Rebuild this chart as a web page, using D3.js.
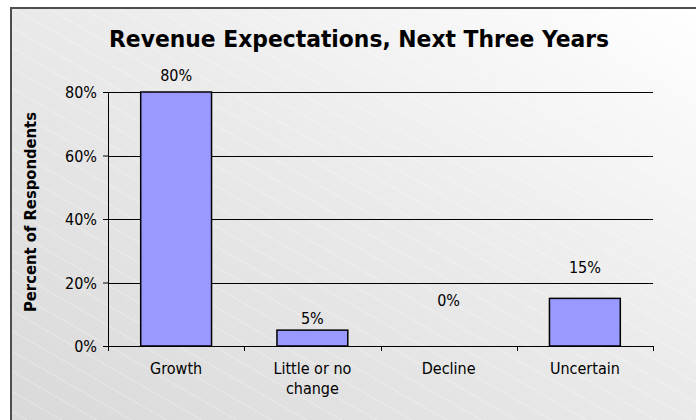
<!DOCTYPE html>
<html>
<head>
<meta charset="utf-8">
<script src="https://cdn.jsdelivr.net/npm/d3@7"></script>
<style>
  html, body { margin: 0; padding: 0; background: #fff; }
  svg { display: block; }
  text { font-family: "DejaVu Sans Condensed", "DejaVu Sans", sans-serif; font-stretch: condensed; }
</style>
</head>
<body>
<svg id="chart" width="696" height="420"></svg>
<script>
// Survey answers and their shares (percent of respondents)
const categories = ["Growth", "Little or no change", "Decline", "Uncertain"];
const categoryLines = [["Growth"], ["Little or no", "change"], ["Decline"], ["Uncertain"]];
const shares = [80, 5, 0, 15];
// where each value label sits, on the percent scale
const labelAnchors = [83.5, 6.9, 12.6, 23];
const yTicks = [0, 20, 40, 60, 80];

const svg = d3.select("#chart");
const W = 696, H = 420;
const margin = { left: 108, right: 43, top: 92, bottom: 74 };

// Panel background: grey-to-white diagonal gradient with faint diagonal hatching
const defs = svg.append("defs");
const grad = defs.append("linearGradient")
  .attr("id", "bg").attr("x1", "0%").attr("y1", "100%").attr("x2", "100%").attr("y2", "0%");
grad.append("stop").attr("offset", "0%").attr("stop-color", "#d9d9d9");
grad.append("stop").attr("offset", "55%").attr("stop-color", "#ebebeb");
grad.append("stop").attr("offset", "100%").attr("stop-color", "#ffffff");

const hatch = defs.append("pattern")
  .attr("id", "hatch").attr("patternUnits", "userSpaceOnUse")
  .attr("width", 40).attr("height", 17.5)
  .attr("patternTransform", "rotate(30)");
hatch.append("line")
  .attr("x1", 0).attr("y1", 0.5).attr("x2", 40).attr("y2", 0.5)
  .attr("stroke", "#ffffff").attr("stroke-opacity", 0.3).attr("stroke-width", 1);

svg.append("rect").attr("x", 10).attr("y", 7).attr("width", W - 10).attr("height", H - 7)
  .attr("fill", "url(#bg)");
svg.append("rect").attr("x", 10).attr("y", 7).attr("width", W - 10).attr("height", H - 7)
  .attr("fill", "url(#hatch)");
// frame edges (top and left)
svg.append("path")
  .attr("d", `M11,${H} L11,8 L${W},8`)
  .attr("fill", "none").attr("stroke", "#4d4d4d").attr("stroke-width", 2);

// Scales
const x = d3.scaleBand()
  .domain(categories)
  .range([margin.left, W - margin.right])
  .paddingInner(0.48).paddingOuter(0.24);
const y = d3.scaleLinear()
  .domain([0, 80])
  .range([H - margin.bottom, margin.top]);

// Horizontal gridlines
svg.append("g")
  .selectAll("line")
  .data(yTicks.filter(d => d > 0))
  .join("line")
  .attr("x1", margin.left).attr("x2", W - margin.right)
  .attr("y1", d => Math.round(y(d)) + 0.5).attr("y2", d => Math.round(y(d)) + 0.5)
  .attr("stroke", "#000").attr("stroke-width", 1);

// Bars
svg.append("g")
  .selectAll("rect")
  .data(shares)
  .join("rect")
  .attr("x", (d, i) => x(categories[i]))
  .attr("width", x.bandwidth())
  .attr("y", d => y(d))
  .attr("height", d => y(0) - y(d))
  .attr("fill", "#9999ff")
  .attr("stroke", "#000").attr("stroke-width", 1.5)
  .attr("display", d => d > 0 ? null : "none");

// Value labels
svg.append("g")
  .selectAll("text")
  .data(shares)
  .join("text")
  .attr("x", (d, i) => x(categories[i]) + x.bandwidth() / 2)
  .attr("y", (d, i) => y(labelAnchors[i]))
  .attr("text-anchor", "middle")
  .attr("font-size", 16)
  .attr("fill", "#000")
  .text(d => d + "%");

// Y axis
const yAxis = d3.axisLeft(y)
  .tickValues(yTicks)
  .tickFormat(d => d + "%")
  .tickSize(5)
  .tickPadding(6);
const gy = svg.append("g").attr("transform", `translate(${margin.left},0)`).call(yAxis);
gy.select(".domain").attr("stroke", "#000").attr("d", `M0.5,${y(80)}V${y(0)}`);
gy.selectAll(".tick line").attr("stroke", "#000");
gy.selectAll(".tick text")
  .attr("font-size", 16).attr("fill", "#000").attr("dy", "0.36em")
  .style("font-family", "'DejaVu Sans Condensed', 'DejaVu Sans', sans-serif")
  .style("font-stretch", "condensed");

// X axis: baseline with ticks at category boundaries
const step = x.step();
const boundaries = d3.range(categories.length + 1).map(i => margin.left + i * step);
svg.append("line")
  .attr("x1", margin.left).attr("x2", W - margin.right)
  .attr("y1", y(0) + 0.5).attr("y2", y(0) + 0.5)
  .attr("stroke", "#000");
svg.append("g")
  .selectAll("line")
  .data(boundaries)
  .join("line")
  .attr("x1", d => Math.round(d) + 0.5).attr("x2", d => Math.round(d) + 0.5)
  .attr("y1", y(0)).attr("y2", y(0) + 5)
  .attr("stroke", "#000");

// Category labels (wrapped)
const cat = svg.append("g")
  .selectAll("text")
  .data(categoryLines)
  .join("text")
  .attr("text-anchor", "middle")
  .attr("font-size", 16)
  .attr("fill", "#000");
cat.each(function (lines, i) {
  const cx = x(categories[i]) + x.bandwidth() / 2;
  d3.select(this).selectAll("tspan")
    .data(lines)
    .join("tspan")
    .attr("x", cx)
    .attr("y", (d, j) => y(0) + 28 + j * 20)
    .text(d => d);
});

// Title
svg.append("text")
  .attr("x", 359).attr("y", 47)
  .attr("text-anchor", "middle")
  .attr("font-size", 23).attr("font-weight", "bold")
  .attr("textLength", 500).attr("lengthAdjust", "spacingAndGlyphs")
  .attr("fill", "#000")
  .text("Revenue Expectations, Next Three Years");

// Y axis title
svg.append("text")
  .attr("transform", "translate(36,212) rotate(-90)")
  .attr("text-anchor", "middle")
  .attr("font-size", 15).attr("font-weight", "bold")
  .attr("textLength", 200).attr("lengthAdjust", "spacingAndGlyphs")
  .attr("fill", "#000")
  .text("Percent of Respondents");
</script>
</body>
</html>
